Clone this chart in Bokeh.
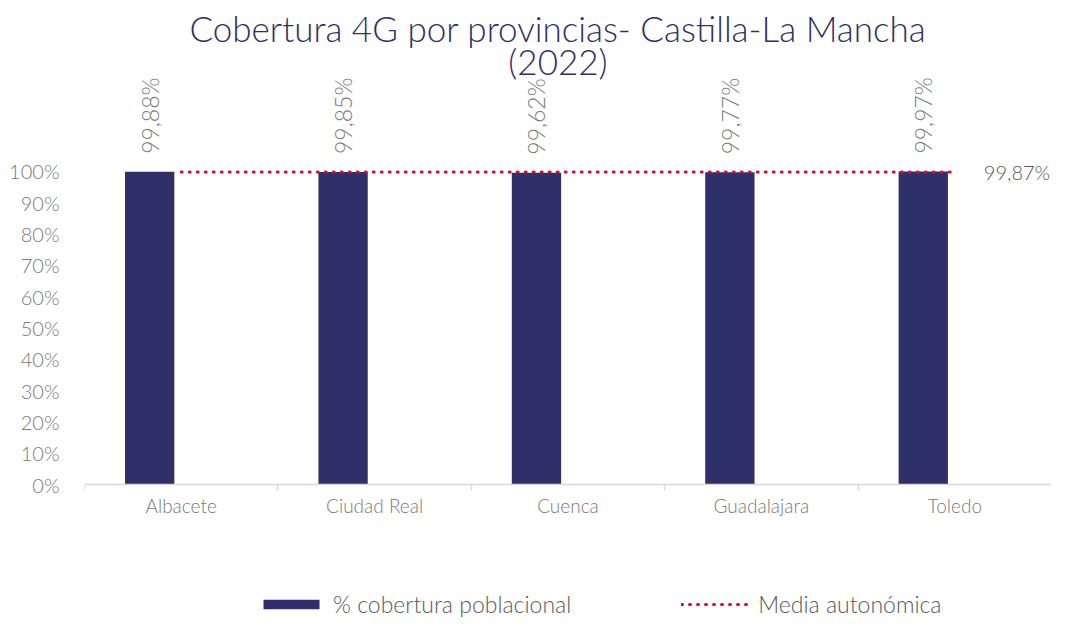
import math
from bokeh.plotting import figure
from bokeh.models import (Range1d, FixedTicker, ColumnDataSource, Legend, LegendItem, Label)
from bokeh.core.properties import value
from bokeh.transform import dodge
from bokeh.embed import file_html
from bokeh.resources import INLINE

# ---- data ----
categories = ["Albacete", "Ciudad Real", "Cuenca", "Guadalajara", "Toledo"]
cobertura = [99.88, 99.85, 99.62, 99.77, 99.97]
media_autonomica = [99.87, 99.87, 99.87, 99.87, 99.87]
y_ticks = [0, 10, 20, 30, 40, 50, 60, 70, 80, 90, 100]
series_names = ["% cobertura poblacional", "Media autonómica"]
title_lines = ["Cobertura 4G por provincias- Castilla-La Mancha", "(2022)"]

FONT = "Lato Light"
NAVY = "#2F2F6A"
RED = "#D0103A"
GRAY = "#7A7A7A"
DGRAY = "#595959"

centers = [i + 0.5 for i in range(len(categories))]
fmt = lambda v: f"{v:.2f}%".replace(".", ",")

src = ColumnDataSource(dict(
    x=centers, cat=categories, cob=cobertura, media=media_autonomica,
    lab=[fmt(v) for v in cobertura],
))

p = figure(width=1051, height=618, x_range=Range1d(0, len(categories)),
           y_range=Range1d(-42.81, 154.63), output_backend="svg", toolbar_location=None,
           min_border_left=84, min_border_right=0, min_border_top=0, min_border_bottom=0,
           outline_line_color=None, background_fill_color="white", border_fill_color="white")
p.grid.visible = False

bars = p.vbar(x=dodge("x", -0.163, range=p.x_range), top="cob", bottom=0, width=0.255, source=src,
              fill_color=NAVY, line_color=None)
line = p.line(x="x", y="media", source=src, line_color=RED, line_width=3, line_dash="1 7",
              line_cap="round")

p.text(x=dodge("x", -0.163, range=p.x_range), y="cob", text="lab", source=src,
       angle=math.pi / 2, text_align="left", text_baseline="middle", y_offset=-18,
       text_font=value(FONT), text_font_size="23px", text_color=GRAY)

end_src = ColumnDataSource(dict(x=[centers[-1]], y=[media_autonomica[-1]], t=[fmt(media_autonomica[-1])]))
p.text(x="x", y="y", text="t", source=end_src, x_offset=29, text_align="left", text_baseline="middle",
       text_font=value(FONT), text_font_size="20px", text_color=DGRAY)

# title
for txt, yy in zip(title_lines, [145.9, 135.4]):
    p.add_layout(Label(x=2.448, y=yy, text=txt, text_align="center", text_baseline="alphabetic",
                       text_font=FONT, text_font_size="35px", text_color=NAVY))

# y axis
ya = p.yaxis[0]
ya.ticker = FixedTicker(ticks=y_ticks)
ya.major_label_overrides = {t: f"{t}%" for t in y_ticks}
ya.axis_line_color = None
ya.major_tick_line_color = None
ya.minor_tick_line_color = None
ya.major_label_standoff = 19
ya.major_label_text_font = FONT
ya.major_label_text_font_size = "20px"
ya.major_label_text_color = GRAY

# x axis drawn at value 0
xa = p.xaxis[0]
xa.fixed_location = 0
xa.ticker = FixedTicker(ticks=centers, minor_ticks=list(range(len(categories) + 1)))
xa.major_label_overrides = {c: n for c, n in zip(centers, categories)}
xa.axis_line_color = "#D9D9D9"
xa.axis_line_width = 1.5
xa.major_tick_line_color = None
xa.major_tick_out = 0
xa.major_tick_in = 0
xa.minor_tick_line_color = "#D9D9D9"
xa.minor_tick_line_width = 1.5
xa.minor_tick_out = 6
xa.minor_tick_in = 0
xa.major_label_standoff = 3
xa.major_label_text_font = FONT
xa.major_label_text_font_size = "19px"
xa.major_label_text_color = GRAY

legend = Legend(items=[LegendItem(label=series_names[0], renderers=[bars]),
                       LegendItem(label=series_names[1], renderers=[line])],
                orientation="horizontal", location=(172, 0), margin=0, padding=0,
                spacing=110, glyph_width=70, glyph_height=12, label_standoff=7,
                label_text_font=FONT, label_text_font_size="23px", label_text_color=DGRAY,
                border_line_color=None, background_fill_alpha=0)
p.add_layout(legend)

open("out.html", "w").write(file_html(p, INLINE))
